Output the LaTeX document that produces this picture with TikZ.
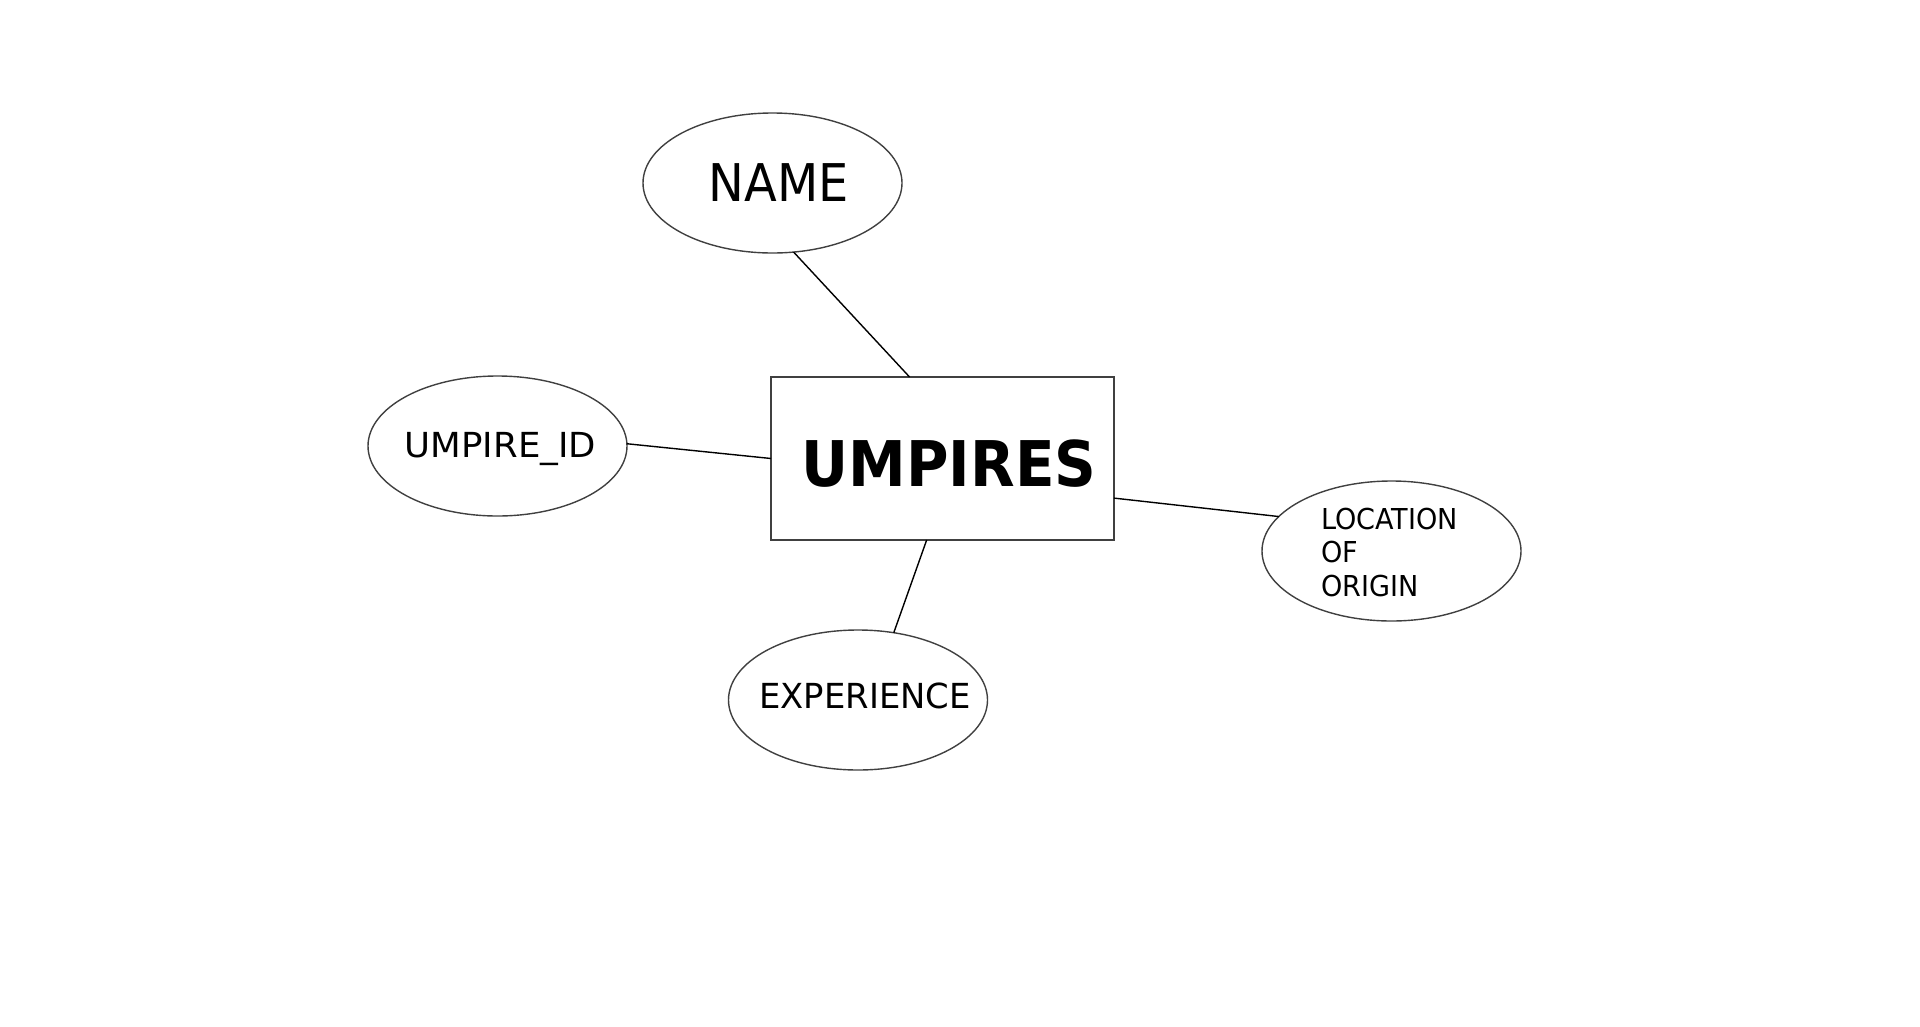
\documentclass[tikz,border=0pt]{standalone}
\usepackage{fontspec}
\setmainfont{DejaVu Sans}
\newfontfamily\fnarrowa[FakeStretch=0.92]{DejaVu Sans}
\newfontfamily\fnarrowb[FakeStretch=0.94]{DejaVu Sans}
\newfontfamily\fnarrowc[FakeStretch=0.98]{DejaVu Sans}
\newfontfamily\fwidea[FakeStretch=1.03]{DejaVu Sans}
\usetikzlibrary{shapes.geometric}
\tikzset{
  attr/.style={ellipse, draw=black!75, line width=1.4pt, minimum width=259pt, minimum height=140pt, inner sep=0pt, outer sep=0pt},
  entity/.style={rectangle, draw=black!75, line width=1.4pt, minimum width=343pt, minimum height=163pt, inner sep=0pt, outer sep=0pt},
  txt/.style={inner sep=0pt, text depth=0pt},
  conn/.style={draw=black, line width=1.4pt}
}
\begin{document}
\begin{tikzpicture}[x=1pt,y=-1pt]
\useasboundingbox (0,0) rectangle (1920,1026);
\node[entity, label={[txt, xshift=6.5pt, yshift=-4.5pt, font=\fnarrowa\fontsize{63}{70}\selectfont\bfseries]center:UMPIRES}] (umpires) at (942.5,458.5) {};
\node[attr, label={[txt, xshift=6.5pt, font=\fnarrowa\fontsize{52}{60}\selectfont]center:NAME}] (name) at (772.5,183) {};
\node[attr, label={[txt, xshift=3pt, yshift=1.5pt, font=\fwidea\fontsize{34.5}{40}\selectfont]center:UMPIRE\_ID}] (uid) at (497.5,446) {};
\node[attr, label={[txt, xshift=7pt, yshift=4pt, font=\fnarrowc\fontsize{34.5}{40}\selectfont]center:EXPERIENCE}] (exp) at (858,700) {};
\node[attr, label={[txt, align=left, xshift=-2pt, yshift=-1pt, font=\fnarrowb\fontsize{28.8}{33.5}\selectfont]center:LOCATION\\OF\\ORIGIN}] (loc) at (1391.5,551) {};
\draw[conn] (name.-73.5) -- (umpires.112.9);
\draw[conn] (uid.1) -- (umpires.180.5);
\draw[conn] (umpires.-13.6) -- (loc.163.5);
\draw[conn] (umpires.-101.4) -- (exp.62.4);
\end{tikzpicture}
\end{document}
